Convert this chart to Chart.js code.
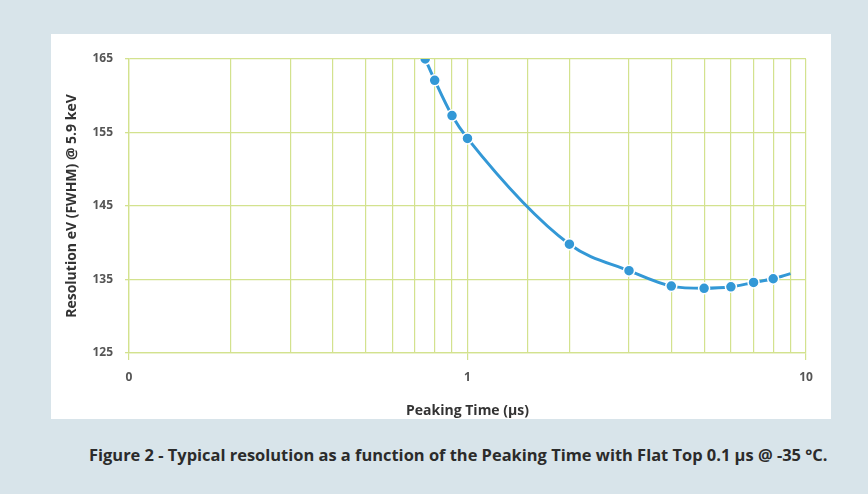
<!DOCTYPE html>
<html>
<head>
<meta charset="utf-8">
<script src="https://cdn.jsdelivr.net/npm/chart.js@4"></script>
<style>
  html, body { margin: 0; padding: 0; }
  body { width: 868px; height: 494px; background: #d8e4ea; position: relative; overflow: hidden; font-family: "Open Sans", Lato, sans-serif; }
  #card { position: absolute; left: 51px; top: 34px; width: 780px; height: 385px; background: #fff; }
  #caption { position: absolute; left: 89px; top: 445px; font-size: 14px; line-height: 20px; font-weight: bold; color: #2b2b2b; white-space: nowrap; }
</style>
</head>
<body>
<div id="card"><canvas id="resChart" width="780" height="385"></canvas></div>
<div id="caption">Figure 2 - Typical resolution as a function of the Peaking Time with Flat Top 0.1 µs @ -35 °C.</div>
<script>
// peaking time (µs) and resolution (eV FWHM @ 5.9 keV)
const peakingTimes = [0.75, 0.8, 0.9, 1, 2, 3, 4, 5, 6, 7, 8, 9];
const resolution = [165, 162.1, 157.3, 154.2, 139.8, 136.2, 134.1, 133.8, 134.0, 134.6, 135.1, 135.8];
const markerShown = [1, 1, 1, 1, 1, 1, 1, 1, 1, 1, 1, 0];
const xLabels = { '0.1': '0', '1': '1', '10': '10' };
const yTicks = [125, 135, 145, 155, 165];

const gridColor = '#d3e28e';
const lineBlue = '#3398d6';
const fontName = 'Open Sans';

// stretch the caption to the width it has in the figure
const cap = document.getElementById('caption');
cap.style.fontSize = (14 * 739 / cap.offsetWidth).toFixed(2) + 'px';

function isDecade(v) {
  const l = Math.log10(v);
  return Math.abs(l - Math.round(l)) < 1e-6;
}

new Chart(document.getElementById('resChart').getContext('2d'), {
  type: 'line',
  data: {
    datasets: [{
      data: peakingTimes.map((t, i) => ({ x: t, y: resolution[i] })),
      borderColor: lineBlue,
      borderWidth: 3,
      backgroundColor: lineBlue,
      pointBackgroundColor: lineBlue,
      pointBorderColor: '#fff',
      pointBorderWidth: 1.5,
      pointRadius: markerShown.map(m => m ? 5.5 : 0),
      cubicInterpolationMode: 'monotone',
      fill: false
    }]
  },
  options: {
    responsive: false,
    animation: false,
    layout: { padding: { left: 0, right: 25, top: 25, bottom: 0 } },
    plugins: { legend: { display: false }, tooltip: { enabled: false } },
    scales: {
      x: {
        type: 'logarithmic',
        min: 0.1,
        max: 10,
        afterFit: s => { s.height = 66; },
        grid: {
          color: gridColor,
          lineWidth: 1.2,
          tickLength: 7,
          tickColor: ctx => (ctx.tick && isDecade(ctx.tick.value)) ? gridColor : 'rgba(0,0,0,0)'
        },
        border: { color: gridColor, width: 1.3 },
        ticks: {
          autoSkip: false,
          maxRotation: 0,
          padding: 10,
          color: '#555',
          font: { family: fontName, size: 12, weight: 'bold' },
          callback: function (v) {
            if (!isDecade(v)) return '';
            return xLabels[String(Math.round(v * 10) / 10)] || '';
          }
        },
        title: {
          display: true,
          text: 'Peaking Time (µs)',
          color: '#333',
          font: { family: fontName, size: 14, weight: 'bold' },
          padding: { top: 2, bottom: 0 }
        }
      },
      y: {
        min: 125,
        max: 165,
        afterFit: s => { s.width = 78; },
        afterBuildTicks: s => { s.ticks = yTicks.map(v => ({ value: v })); },
        grid: { color: gridColor, lineWidth: 1.3, tickLength: 4 },
        border: { color: gridColor, width: 1.3 },
        ticks: {
          padding: 12,
          color: '#555',
          font: { family: fontName, size: 12, weight: 'bold' }
        },
        title: {
          display: true,
          text: 'Resolution eV (FWHM) @ 5.9 keV',
          color: '#333',
          font: { family: fontName, size: 14, weight: 'bold' },
          padding: { top: 13, bottom: 0 }
        }
      }
    }
  }
});
</script>
</body>
</html>
